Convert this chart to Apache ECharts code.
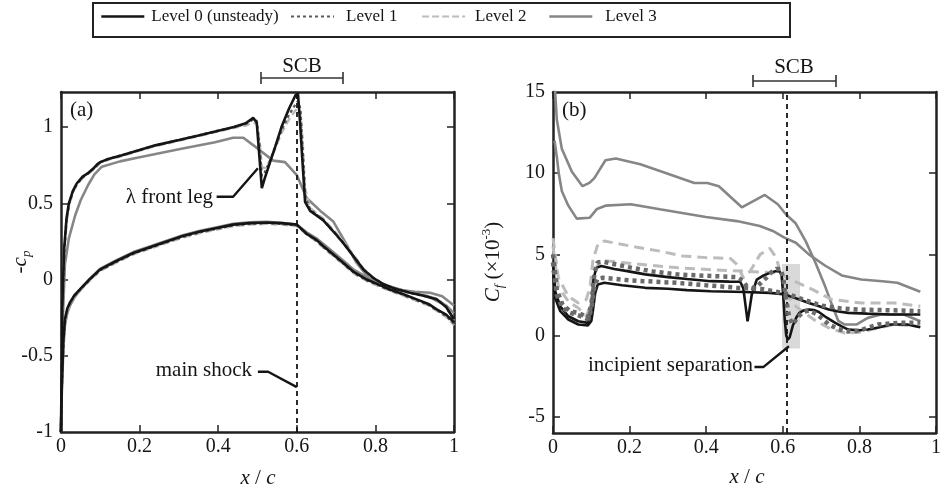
<!DOCTYPE html>
<html>
<head>
<meta charset="utf-8">
<script src="https://cdn.jsdelivr.net/npm/echarts@6/dist/echarts.min.js"></script>
<style>html,body{margin:0;padding:0;background:#fff}#main{width:944px;height:495px}</style>
</head>
<body>
<div id="main"></div>
<script>
// ---- data ----
var levels = ['Level 0 (unsteady)', 'Level 1', 'Level 2', 'Level 3'];

// (a) -cp, upper surface: levels 0-2 share x stations
var xUpA = [0, 0.003, 0.008, 0.014, 0.02, 0.03, 0.04, 0.055, 0.07, 0.085, 0.092, 0.096, 0.1, 0.12, 0.155, 0.2, 0.24, 0.3, 0.35, 0.39, 0.44, 0.47, 0.489, 0.498, 0.505, 0.511, 0.518, 0.532, 0.545, 0.561, 0.58, 0.597, 0.603, 0.609, 0.615, 0.621, 0.634, 0.667, 0.695, 0.718, 0.745, 0.77, 0.795, 0.82, 0.85, 0.888, 0.92, 0.956, 0.98, 1.0];
var l0UpA = [-1, -0.2, 0.2, 0.4, 0.5, 0.58, 0.63, 0.675, 0.70, 0.735, 0.755, 0.765, 0.77, 0.79, 0.815, 0.85, 0.88, 0.915, 0.945, 0.97, 1.0, 1.025, 1.06, 1.03, 0.80, 0.60, 0.66, 0.77, 0.87, 1.0, 1.12, 1.21, 1.22, 1.0, 0.75, 0.51, 0.45, 0.39, 0.31, 0.24, 0.15, 0.065, 0.01, -0.03, -0.06, -0.087, -0.105, -0.13, -0.18, -0.26];
var l1UpA = [-1, -0.22, 0.18, 0.39, 0.49, 0.575, 0.625, 0.67, 0.70, 0.73, 0.75, 0.76, 0.77, 0.79, 0.815, 0.85, 0.88, 0.915, 0.945, 0.97, 1.0, 1.02, 1.05, 1.04, 0.88, 0.68, 0.70, 0.78, 0.87, 0.98, 1.08, 1.15, 1.17, 1.12, 0.85, 0.55, 0.46, 0.39, 0.31, 0.24, 0.15, 0.065, 0.01, -0.03, -0.06, -0.087, -0.105, -0.13, -0.18, -0.27];
var l2UpA = [-1, -0.25, 0.15, 0.37, 0.48, 0.57, 0.62, 0.665, 0.695, 0.725, 0.745, 0.755, 0.765, 0.785, 0.81, 0.845, 0.875, 0.91, 0.94, 0.965, 0.995, 1.01, 1.03, 1.02, 0.92, 0.74, 0.73, 0.78, 0.86, 0.96, 1.05, 1.11, 1.12, 1.10, 0.90, 0.60, 0.47, 0.40, 0.32, 0.25, 0.16, 0.07, 0.01, -0.03, -0.06, -0.085, -0.10, -0.125, -0.17, -0.27];
var xUp3A = [0, 0.004, 0.01, 0.02, 0.036, 0.05, 0.069, 0.085, 0.104, 0.15, 0.197, 0.3, 0.392, 0.438, 0.464, 0.5, 0.54, 0.57, 0.60, 0.625, 0.66, 0.693, 0.72, 0.752, 0.786, 0.82, 0.854, 0.9, 0.939, 0.97, 1.0];
var l3UpA = [-1, -0.3, 0.1, 0.27, 0.42, 0.52, 0.62, 0.69, 0.74, 0.775, 0.80, 0.855, 0.90, 0.93, 0.93, 0.86, 0.78, 0.77, 0.685, 0.535, 0.45, 0.38, 0.26, 0.11, 0.0, -0.035, -0.065, -0.08, -0.087, -0.11, -0.17];

// (a) -cp, lower surface
var xLowA = [0, 0.002, 0.006, 0.01, 0.016, 0.023, 0.035, 0.048, 0.07, 0.099, 0.14, 0.184, 0.23, 0.269, 0.31, 0.354, 0.4, 0.438, 0.48, 0.523, 0.56, 0.6, 0.625, 0.65, 0.667, 0.69, 0.718, 0.745, 0.778, 0.81, 0.837, 0.87, 0.905, 0.935, 0.956, 0.98, 1.0];
var l0LowA = [-1, -0.7, -0.4, -0.26, -0.19, -0.15, -0.1, -0.065, -0.005, 0.065, 0.12, 0.174, 0.215, 0.25, 0.285, 0.315, 0.34, 0.36, 0.37, 0.374, 0.37, 0.36, 0.30, 0.26, 0.22, 0.17, 0.11, 0.05, 0.0, -0.035, -0.065, -0.095, -0.13, -0.16, -0.196, -0.23, -0.28];
var l1LowA = [-1, -0.72, -0.42, -0.27, -0.2, -0.155, -0.105, -0.07, -0.01, 0.06, 0.115, 0.17, 0.21, 0.245, 0.28, 0.31, 0.335, 0.355, 0.365, 0.37, 0.365, 0.355, 0.30, 0.255, 0.215, 0.165, 0.105, 0.045, -0.005, -0.04, -0.07, -0.1, -0.135, -0.165, -0.2, -0.24, -0.29];
var l2LowA = [-1, -0.72, -0.43, -0.28, -0.21, -0.16, -0.11, -0.075, -0.015, 0.055, 0.11, 0.165, 0.205, 0.24, 0.275, 0.305, 0.33, 0.35, 0.36, 0.365, 0.36, 0.35, 0.295, 0.25, 0.21, 0.16, 0.10, 0.04, -0.01, -0.045, -0.075, -0.105, -0.14, -0.17, -0.205, -0.245, -0.3];
var l3LowA = [-1, -0.75, -0.45, -0.3, -0.22, -0.17, -0.115, -0.07, -0.005, 0.07, 0.125, 0.18, 0.22, 0.255, 0.29, 0.32, 0.345, 0.365, 0.375, 0.378, 0.372, 0.36, 0.31, 0.27, 0.235, 0.185, 0.125, 0.065, 0.015, -0.02, -0.045, -0.07, -0.09, -0.11, -0.14, -0.17, -0.22];

// (b) Cf x 1e3
var xUp0B = [0, 0.006, 0.019, 0.04, 0.066, 0.091, 0.1, 0.106, 0.113, 0.126, 0.16, 0.194, 0.241, 0.3, 0.35, 0.412, 0.46, 0.489, 0.497, 0.503, 0.508, 0.513, 0.519, 0.532, 0.55, 0.566, 0.583, 0.592, 0.597, 0.601, 0.605, 0.609, 0.613, 0.618, 0.626, 0.635, 0.643, 0.655, 0.668, 0.681, 0.694, 0.715, 0.737, 0.755, 0.771, 0.8, 0.822, 0.85, 0.882, 0.925, 0.959];
var l0UpB = [4.5, 2.7, 1.8, 1.19, 0.88, 0.78, 1.7, 3.5, 4.17, 4.28, 4.1, 3.97, 3.77, 3.6, 3.48, 3.35, 3.32, 3.31, 2.9, 1.8, 0.88, 1.6, 2.53, 3.45, 3.7, 3.86, 3.97, 3.95, 3.7, 2.5, 1.0, 0.0, -0.25, -0.1, 0.6, 1.1, 1.4, 1.55, 1.6, 1.57, 1.45, 1.1, 0.78, 0.55, 0.37, 0.33, 0.37, 0.5, 0.68, 0.68, 0.51];
var xLow0B = [0, 0.006, 0.019, 0.04, 0.066, 0.091, 0.1, 0.104, 0.11, 0.117, 0.134, 0.18, 0.241, 0.3, 0.35, 0.412, 0.5, 0.566, 0.6, 0.617, 0.64, 0.668, 0.695, 0.72, 0.745, 0.771, 0.82, 0.882, 0.959];
var l0LowB = [4.0, 2.3, 1.5, 0.99, 0.68, 0.62, 0.9, 1.5, 2.6, 3.15, 3.25, 3.1, 2.94, 2.88, 2.8, 2.73, 2.68, 2.63, 2.55, 2.43, 2.25, 2.01, 1.8, 1.6, 1.48, 1.4, 1.35, 1.3, 1.3];
var xUp1B = [0, 0.01, 0.025, 0.045, 0.066, 0.091, 0.1, 0.108, 0.116, 0.13, 0.2, 0.26, 0.322, 0.4, 0.48, 0.495, 0.506, 0.52, 0.532, 0.545, 0.557, 0.57, 0.583, 0.595, 0.602, 0.608, 0.617, 0.626, 0.638, 0.652, 0.668, 0.69, 0.72, 0.745, 0.77, 0.8, 0.848, 0.9, 0.959];
var l1UpB = [5.0, 2.8, 1.9, 1.5, 1.4, 1.1, 1.9, 3.8, 4.5, 4.55, 4.2, 3.95, 3.77, 3.68, 3.6, 3.4, 3.04, 2.94, 3.0, 3.3, 3.56, 3.9, 4.1, 4.1, 3.4, 2.32, 1.09, 0.68, 1.09, 1.45, 1.55, 1.3, 0.68, 0.4, 0.25, 0.3, 0.68, 0.78, 0.8];
var xLow1B = [0, 0.01, 0.025, 0.045, 0.066, 0.091, 0.1, 0.108, 0.116, 0.13, 0.2, 0.322, 0.4, 0.48, 0.55, 0.583, 0.62, 0.668, 0.7, 0.75, 0.8, 0.9, 0.959];
var l1LowB = [4.5, 2.5, 1.7, 1.4, 1.25, 1.0, 1.6, 3.0, 3.5, 3.56, 3.4, 3.25, 3.1, 2.95, 2.85, 2.7, 2.5, 2.1, 1.85, 1.68, 1.6, 1.55, 1.5];
var xUp2B = [0, 0.014, 0.04, 0.066, 0.087, 0.097, 0.104, 0.117, 0.134, 0.203, 0.279, 0.339, 0.4, 0.463, 0.48, 0.497, 0.515, 0.541, 0.566, 0.583, 0.6, 0.617, 0.634, 0.651, 0.68, 0.72, 0.762, 0.8, 0.831, 0.891, 0.959];
var l2UpB = [6.0, 3.56, 2.43, 2.01, 2.22, 3.0, 4.59, 5.62, 5.82, 5.51, 5.2, 4.9, 4.8, 4.75, 4.38, 3.56, 3.97, 5.0, 5.37, 4.79, 3.35, 2.32, 1.8, 1.5, 1.0, 0.47, 0.16, 0.2, 0.37, 0.68, 0.57];
var xLow2B = [0, 0.014, 0.04, 0.066, 0.087, 0.1, 0.108, 0.12, 0.14, 0.2, 0.327, 0.42, 0.497, 0.583, 0.61, 0.634, 0.677, 0.728, 0.805, 0.891, 0.959];
var l2LowB = [5.5, 3.0, 2.1, 1.7, 1.2, 2.0, 3.8, 4.5, 4.6, 4.45, 4.17, 4.05, 3.97, 3.86, 3.6, 3.3, 2.84, 2.22, 2.01, 2.01, 1.81];
var xUp3B = [0.003, 0.01, 0.023, 0.049, 0.077, 0.095, 0.108, 0.137, 0.164, 0.228, 0.296, 0.369, 0.403, 0.433, 0.493, 0.553, 0.587, 0.608, 0.634, 0.66, 0.685, 0.711, 0.73, 0.745, 0.762, 0.792, 0.822, 0.856, 0.916, 0.959];
var l3UpB = [16, 13.3, 11.5, 10.1, 9.2, 9.4, 9.7, 10.8, 10.9, 10.55, 10.0, 9.4, 9.4, 9.2, 7.9, 8.66, 8.09, 7.47, 6.9, 5.8, 4.5, 3.0, 1.8, 0.9, 0.68, 0.68, 1.09, 1.3, 1.3, 0.88];
var xLow3B = [0.004, 0.01, 0.015, 0.023, 0.04, 0.062, 0.096, 0.115, 0.137, 0.203, 0.279, 0.399, 0.48, 0.54, 0.574, 0.604, 0.634, 0.668, 0.711, 0.754, 0.805, 0.86, 0.899, 0.959];
var l3LowB = [12.0, 11.0, 10.0, 8.9, 8.0, 7.2, 7.26, 7.8, 8.0, 8.09, 7.78, 7.3, 7.05, 6.75, 6.44, 6.03, 5.72, 5.0, 4.3, 3.7, 3.45, 3.35, 3.25, 2.7];

// tick labels
var xTicks = [0, 0.2, 0.4, 0.6, 0.8, 1];
var yTicksA = [-1, -0.5, 0, 0.5, 1];
var yTicksB = [-5, 0, 5, 10, 15];

// annotations (data units)
var shockA = 0.604, shockB = 0.606;
var shadeB = [[0.598, 4.4], [0.645, -0.8]];
var leaderLeg = [[0.396, 0.543], [0.438, 0.543], [0.501, 0.73]];
var leaderShock = [[0.501, -0.605], [0.527, -0.605], [0.600, -0.706]];
var leaderSep = [[0.526, -1.94], [0.549, -1.94], [0.616, -0.66]];

// ---- chart ----
var font = 'Liberation Serif';
var ink = '#151515';
var myChart = echarts.init(document.getElementById('main'));

function pairs(xs, ys) {
    return xs.map(function (x, i) { return [x, ys[i]]; });
}

var stL0 = {color: '#151515', width: 2.6};
var stL1a = {color: '#5a5a5a', width: 2.4, type: [3, 3]};
var stL1b = {color: '#6a6a6a', width: 4.5, type: [4, 4]};
var stL2a = {color: '#b8b8b8', width: 2.4, type: [7, 4]};
var stL2b = {color: '#bcbcbc', width: 3, type: [10, 6]};
var stL3 = {color: '#868686', width: 2.6};

function curve(name, panel, xs, ys, st, z) {
    return {
        name: name, type: 'line', xAxisIndex: panel * 2, yAxisIndex: panel * 2,
        data: pairs(xs, ys), symbol: 'none', silent: true, z: z,
        itemStyle: {color: st.color}, lineStyle: st
    };
}

function leader(panel, pts) {
    return {
        type: 'line', xAxisIndex: panel * 2, yAxisIndex: panel * 2, data: pts,
        symbol: 'none', silent: true, z: 10, clip: false,
        lineStyle: {color: ink, width: 2.4}
    };
}

function xAx(grid, pos) {
    return {
        type: 'value', gridIndex: grid, position: pos, min: 0, max: 1, interval: 0.2,
        axisLine: {onZero: false, lineStyle: {color: '#222', width: 2.5}},
        axisTick: {inside: true, length: 7, lineStyle: {color: '#222', width: 1.5}},
        axisLabel: {show: pos === 'bottom', fontFamily: font, fontSize: 20, color: ink, margin: 5,
            customValues: xTicks},
        splitLine: {show: false}
    };
}

function yAx(grid, pos, min, max, labels, ticks) {
    return {
        type: 'value', gridIndex: grid, position: pos, min: min, max: max,
        axisLine: {onZero: false, lineStyle: {color: '#222', width: 2.5}},
        axisTick: {inside: true, length: 7, lineStyle: {color: '#222', width: 1.5}, customValues: ticks},
        axisLabel: {show: pos === 'left', fontFamily: font, fontSize: 20, color: ink, margin: 8,
            customValues: labels},
        splitLine: {show: false}
    };
}

// one legend component per entry so each sits where the figure has it
function legendAt(name, left, gap, lineStyle) {
    return {
        data: [{name: name, lineStyle: lineStyle, itemStyle: {opacity: 0}}],
        left: left, top: 8, padding: 0,
        itemWidth: 43, itemHeight: 20, selectedMode: false,
        textStyle: {fontFamily: font, fontSize: 17, color: ink, padding: [0, 0, 0, gap]}
    };
}

var rich = {
    n: {fontFamily: font, fontSize: 21, fill: ink, lineHeight: 26, verticalAlign: 'middle'},
    i: {fontFamily: font, fontSize: 21, fontStyle: 'italic', fill: ink, lineHeight: 26, verticalAlign: 'middle'},
    s: {fontFamily: font, fontSize: 13, fontStyle: 'italic', fill: ink, lineHeight: 13, verticalAlign: 'bottom'},
    u: {fontFamily: font, fontSize: 13, fill: ink, lineHeight: 13, verticalAlign: 'top'}
};

function txt(x, y, text, align, rot) {
    return {
        type: 'text', x: x, y: y, rotation: rot || 0, silent: true,
        style: {text: text, fontFamily: font, fontSize: 21, fill: ink, align: align || 'center',
            verticalAlign: 'middle', rich: rich}
    };
}

function bracket(x1, x2, y) {
    var s = {stroke: '#333', lineWidth: 1.6};
    return [
        {type: 'line', shape: {x1: x1, y1: y, x2: x2, y2: y}, style: s, silent: true},
        {type: 'line', shape: {x1: x1, y1: y - 6, x2: x1, y2: y + 6}, style: s, silent: true},
        {type: 'line', shape: {x1: x2, y1: y - 6, x2: x2, y2: y + 6}, style: s, silent: true}
    ];
}

var series = [
    curve(levels[3], 0, xUp3A, l3UpA, stL3, 2),
    curve(levels[3], 0, xLowA, l3LowA, stL3, 2),
    curve(levels[2], 0, xUpA, l2UpA, stL2a, 3),
    curve(levels[2], 0, xLowA, l2LowA, stL2a, 3),
    curve(levels[1], 0, xUpA, l1UpA, stL1a, 4),
    curve(levels[1], 0, xLowA, l1LowA, stL1a, 4),
    curve(levels[0], 0, xUpA, l0UpA, stL0, 5),
    curve(levels[0], 0, xLowA, l0LowA, stL0, 5),

    curve(levels[3], 1, xUp3B, l3UpB, stL3, 2),
    curve(levels[3], 1, xLow3B, l3LowB, stL3, 2),
    curve(levels[2], 1, xUp2B, l2UpB, stL2b, 3),
    curve(levels[2], 1, xLow2B, l2LowB, stL2b, 3),
    curve(levels[0], 1, xUp0B, l0UpB, stL0, 4),
    curve(levels[0], 1, xLow0B, l0LowB, stL0, 4),
    curve(levels[1], 1, xUp1B, l1UpB, stL1b, 5),
    curve(levels[1], 1, xLow1B, l1LowB, stL1b, 5),

    leader(0, leaderLeg),
    leader(0, leaderShock),
    leader(1, leaderSep)
];

// shock position lines and shaded region
series[16].markLine = {
    symbol: 'none', silent: true, label: {show: false},
    lineStyle: {color: ink, width: 1.8, type: [5, 4]},
    data: [{xAxis: shockA}]
};
series[18].markLine = {
    symbol: 'none', silent: true, label: {show: false},
    lineStyle: {color: ink, width: 1.8, type: [5, 4]},
    data: [{xAxis: shockB}]
};
series[18].markArea = {
    silent: true, itemStyle: {color: '#d9d9d9'},
    data: [[{coord: shadeB[0]}, {coord: shadeB[1]}]]
};

var option = {
    animation: false,
    backgroundColor: '#fff',
    grid: [
        {left: 61, right: 490, top: 92, bottom: 63},
        {left: 553, right: 1, top: 92, bottom: 62}
    ],
    legend: [
        legendAt(levels[0], 100, 2, {color: '#151515', width: 2.6, type: 'solid'}),
        legendAt(levels[1], 290, 7, {color: '#5a5a5a', width: 2, type: [3, 3]}),
        legendAt(levels[2], 421, 5, {color: '#bcbcbc', width: 2.2, type: [7, 3]}),
        legendAt(levels[3], 548, 8, {color: '#868686', width: 2.6, type: 'solid'})
    ],
    xAxis: [xAx(0, 'bottom'), xAx(0, 'top'), xAx(1, 'bottom'), xAx(1, 'top')],
    yAxis: [
        yAx(0, 'left', -1, 1.23, yTicksA, [-0.5, 0, 0.5, 1]),
        yAx(0, 'right', -1, 1.23, yTicksA, [-0.5, 0, 0.5, 1]),
        yAx(1, 'left', -6, 15, yTicksB, [-5, 0, 5, 10]),
        yAx(1, 'right', -6, 15, yTicksB, [-5, 0, 5, 10])
    ],
    graphic: [
        {type: 'rect', shape: {x: 93, y: 3, width: 697, height: 34},
            style: {fill: 'none', stroke: '#222', lineWidth: 2}, silent: true},
        txt(302, 66, 'SCB'),
        txt(794, 67, 'SCB'),
        txt(70, 110, '(a)', 'left'),
        txt(562, 110, '(b)', 'left'),
        txt(213, 197, 'λ front leg', 'right'),
        txt(252, 370, 'main shock', 'right'),
        txt(753, 365, 'incipient separation', 'right'),
        txt(258, 478, '{i|x}{n| / }{i|c}'),
        txt(747, 477, '{i|x}{n| / }{i|c}'),
        txt(20, 262, '{n|-}{i|c}{s|p}', 'center', Math.PI / 2),
        txt(493, 262, '{i|C}{s|f}{n| (×10}{u|-3}{n|)}', 'center', Math.PI / 2)
    ].concat(bracket(261, 343, 78), bracket(753, 836, 81)),
    series: series
};

myChart.setOption(option);
</script>
</body>
</html>
